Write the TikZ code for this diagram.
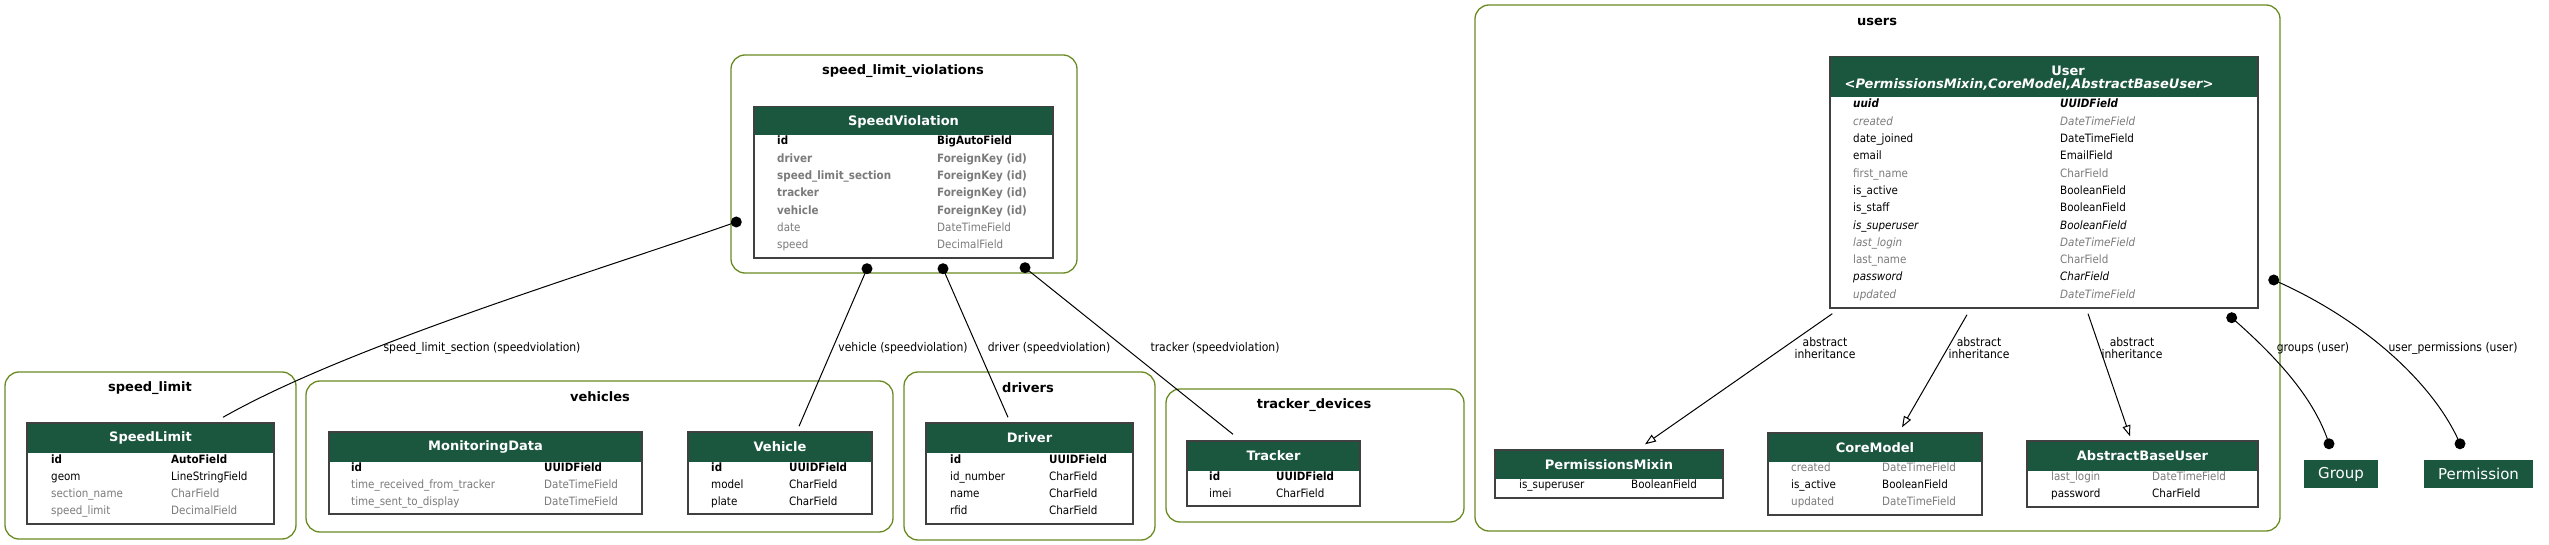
\documentclass[tikz,border=0pt]{standalone}
\usepackage{fontspec}
\setmainfont{DejaVu Sans}
\newfontfamily\condfont{DejaVu Sans Condensed}
\usetikzlibrary{arrows.meta,positioning}

\definecolor{hdrgreen}{HTML}{1B563F}
\definecolor{clustergreen}{HTML}{698B22}
\definecolor{fieldgray}{HTML}{7B7B7B}

\newcommand{\rowfont}{\condfont\fontsize{11.5}{13}\selectfont}

\tikzset{
	cluster/.style={draw=clustergreen, line width=1.3pt, rounded corners=14pt, inner sep=0pt},
	clustertitle/.style={font=\bfseries\fontsize{13}{15}\selectfont, inner sep=0pt},
	modelbox/.style={draw=black!75, line width=1.4pt, fill=white, inner sep=0pt},
	modelhead/.style={fill=hdrgreen, text=white, font=\bfseries\fontsize{13}{15}\selectfont, inner sep=0pt, anchor=north},
	fieldtxt/.style={font=\rowfont, inner sep=0pt, anchor=west, text height=8.5pt, text depth=2.5pt},
	plain/.style={fieldtxt},
	opt/.style={fieldtxt, text=fieldgray},
	pk/.style={fieldtxt, font=\rowfont\bfseries},
	fk/.style={fieldtxt, font=\rowfont\bfseries, text=fieldgray},
	ipk/.style={fieldtxt, font=\rowfont\bfseries\itshape},
	iplain/.style={fieldtxt, font=\rowfont\itshape},
	iopt/.style={fieldtxt, font=\rowfont\itshape, text=fieldgray},
	conn/.style={line width=1pt},
	fkdot/.style={fill=black},
	inherit/.style={line width=1pt, -{Triangle[open, length=11pt, width=8pt]}},
	edgelabel/.style={font=\condfont\fontsize{12}{11.5}\selectfont, inner sep=0pt, align=center}
}

\begin{document}
\begin{tikzpicture}[x=1pt, y=-1pt]
	% Define row spacing
	\def \rowstep {17.3}
	\useasboundingbox (0,0) rectangle (2549,545);

	% Draw clusters
	\node[cluster, minimum width=291, minimum height=167] (cl-speedlimit) at (150.5,455.5) {};
	\node[cluster, minimum width=587, minimum height=151] (cl-vehicles) at (599.5,456.5) {};
	\node[cluster, minimum width=251, minimum height=168] (cl-drivers) at (1029.5,456) {};
	\node[cluster, minimum width=298, minimum height=133] (cl-trackers) at (1315,455.5) {};
	\node[cluster, minimum width=346, minimum height=218] (cl-violations) at (904,164) {};
	\node[cluster, minimum width=805, minimum height=526] (cl-users) at (1877.5,268) {};
	\node[clustertitle] (cl-speedlimit-t) at (150,388) {speed\_limit};
	\node[clustertitle] (cl-vehicles-t) at (600,397) {vehicles};
	\node[clustertitle] (cl-drivers-t) at (1028,388) {drivers};
	\node[clustertitle] (cl-trackers-t) at (1314,405) {tracker\_devices};
	\node[clustertitle] (cl-violations-t) at (903,71) {speed\_limit\_violations};
	\node[clustertitle] (cl-users-t) at (1877,22) {users};

	% Draw models
	\node[modelbox, minimum width=247, minimum height=101] (speedlimit) at (150.5,473.5) {};
	\node[modelbox, minimum width=313, minimum height=82] (monitoringdata) at (485.5,473) {};
	\node[modelbox, minimum width=184, minimum height=82] (vehicle) at (780,473) {};
	\node[modelbox, minimum width=207, minimum height=101] (driver) at (1029.5,473.5) {};
	\node[modelbox, minimum width=173, minimum height=65] (tracker) at (1273.5,473.5) {};
	\node[modelbox, minimum width=299, minimum height=151] (speedviolation) at (903.5,182.5) {};
	\node[modelbox, minimum width=428, minimum height=251] (user) at (2044,182.5) {};
	\node[modelbox, minimum width=228, minimum height=48] (permissionsmixin) at (1609,474) {};
	\node[modelbox, minimum width=214, minimum height=82] (coremodel) at (1875,474) {};
	\node[modelbox, minimum width=231, minimum height=66] (abstractbaseuser) at (2142.5,474) {};

	% Draw headers
	\node[modelhead, minimum width=245, minimum height=29] (speedlimit-h) at ([yshift=-1pt]speedlimit.north) {SpeedLimit};
	\node[modelhead, minimum width=311, minimum height=29] (monitoringdata-h) at ([yshift=-1pt]monitoringdata.north) {MonitoringData};
	\node[modelhead, minimum width=182, minimum height=29] (vehicle-h) at ([yshift=-1pt]vehicle.north) {Vehicle};
	\node[modelhead, minimum width=205, minimum height=29] (driver-h) at ([yshift=-1pt]driver.north) {Driver};
	\node[modelhead, minimum width=171, minimum height=29] (tracker-h) at ([yshift=-1pt]tracker.north) {Tracker};
	\node[modelhead, minimum width=297, minimum height=28] (speedviolation-h) at ([yshift=-1pt]speedviolation.north) {SpeedViolation};
	\node[modelhead, minimum width=426, minimum height=40] (user-h) at ([yshift=-1pt]user.north) {};
	\node[modelhead, anchor=center] (user-h1) at (2068,71) {User};
	\node[modelhead, anchor=center, font=\bfseries\itshape\fontsize{13}{15}\selectfont] (user-h2) at (2029,84) {<PermissionsMixin,CoreModel,AbstractBaseUser>};
	\node[modelhead, minimum width=226, minimum height=28] (permissionsmixin-h) at ([yshift=-1pt]permissionsmixin.north) {PermissionsMixin};
	\node[modelhead, minimum width=212, minimum height=28] (coremodel-h) at ([yshift=-1pt]coremodel.north) {CoreModel};
	\node[modelhead, minimum width=229, minimum height=29] (abstractbaseuser-h) at ([yshift=-1pt]abstractbaseuser.north) {AbstractBaseUser};
	\node[modelhead, anchor=center, minimum width=74, minimum height=28, font=\fontsize{15}{17}\selectfont] (group) at (2341,474) {Group};
	\node[modelhead, anchor=center, minimum width=109, minimum height=28, font=\fontsize{15}{17}\selectfont] (permission) at (2478.5,474) {Permission};

	% Draw fields
	\foreach \fname/\ftype/\fstyle [count=\i from 0] in {id/AutoField/pk, geom/LineStringField/plain, section\_name/CharField/opt, speed\_limit/DecimalField/opt}{
		\node[\fstyle] (speedlimit-n\i) at (51, 460+\rowstep*\i) {\fname};
		\node[\fstyle] (speedlimit-t\i) at (171, 460+\rowstep*\i) {\ftype};
	}
	\foreach \fname/\ftype/\fstyle [count=\i from 0] in {id/UUIDField/pk, time\_received\_from\_tracker/DateTimeField/opt, time\_sent\_to\_display/DateTimeField/opt}{
		\node[\fstyle] (monitoringdata-n\i) at (351, 468+\rowstep*\i) {\fname};
		\node[\fstyle] (monitoringdata-t\i) at (544, 468+\rowstep*\i) {\ftype};
	}
	\foreach \fname/\ftype/\fstyle [count=\i from 0] in {id/UUIDField/pk, model/CharField/plain, plate/CharField/plain}{
		\node[\fstyle] (vehicle-n\i) at (711, 468+\rowstep*\i) {\fname};
		\node[\fstyle] (vehicle-t\i) at (789, 468+\rowstep*\i) {\ftype};
	}
	\foreach \fname/\ftype/\fstyle [count=\i from 0] in {id/UUIDField/pk, id\_number/CharField/plain, name/CharField/plain, rfid/CharField/plain}{
		\node[\fstyle] (driver-n\i) at (950, 460+\rowstep*\i) {\fname};
		\node[\fstyle] (driver-t\i) at (1049, 460+\rowstep*\i) {\ftype};
	}
	\foreach \fname/\ftype/\fstyle [count=\i from 0] in {id/UUIDField/pk, imei/CharField/plain}{
		\node[\fstyle] (tracker-n\i) at (1209, 477+\rowstep*\i) {\fname};
		\node[\fstyle] (tracker-t\i) at (1276, 477+\rowstep*\i) {\ftype};
	}
	\foreach \fname/\ftype/\fstyle [count=\i from 0] in {id/BigAutoField/pk, driver/ForeignKey (id)/fk, speed\_limit\_section/ForeignKey (id)/fk, tracker/ForeignKey (id)/fk, vehicle/ForeignKey (id)/fk, date/DateTimeField/opt, speed/DecimalField/opt}{
		\node[\fstyle] (speedviolation-n\i) at (777, 142+\rowstep*\i) {\fname};
		\node[\fstyle] (speedviolation-t\i) at (937, 142+\rowstep*\i) {\ftype};
	}
	\foreach \fname/\ftype/\fstyle [count=\i from 0] in {uuid/UUIDField/ipk, created/DateTimeField/iopt, date\_joined/DateTimeField/plain, email/EmailField/plain, first\_name/CharField/opt, is\_active/BooleanField/plain, is\_staff/BooleanField/plain, is\_superuser/BooleanField/iplain, last\_login/DateTimeField/iopt, last\_name/CharField/opt, password/CharField/iplain, updated/DateTimeField/iopt}{
		\node[\fstyle] (user-n\i) at (1853, 105+\rowstep*\i) {\fname};
		\node[\fstyle] (user-t\i) at (2060, 105+\rowstep*\i) {\ftype};
	}
	\node[plain] (permissionsmixin-n0) at (1519,485) {is\_superuser};
	\node[plain] (permissionsmixin-t0) at (1631,485) {BooleanField};
	\foreach \fname/\ftype/\fstyle [count=\i from 0] in {created/DateTimeField/opt, is\_active/BooleanField/plain, updated/DateTimeField/opt}{
		\node[\fstyle] (coremodel-n\i) at (1791, 468+\rowstep*\i) {\fname};
		\node[\fstyle] (coremodel-t\i) at (1882, 468+\rowstep*\i) {\ftype};
	}
	\foreach \fname/\ftype/\fstyle [count=\i from 0] in {last\_login/DateTimeField/opt, password/CharField/plain}{
		\node[\fstyle] (abstractbaseuser-n\i) at (2051, 477+\rowstep*\i) {\fname};
		\node[\fstyle] (abstractbaseuser-t\i) at (2152, 477+\rowstep*\i) {\ftype};
	}

	% Draw foreign keys
	\coordinate (fk-section) at ([shift={(-17,39.5)}]speedviolation.west);
	\coordinate (fk-vehicle) at ([shift={(-36.5,10)}]speedviolation.south);
	\coordinate (fk-driver) at ([shift={(39.5,10)}]speedviolation.south);
	\coordinate (fk-tracker) at ([shift={(121.5,9)}]speedviolation.south);
	\coordinate (fk-groups) at ([shift={(-27,9)}]user.south east);
	\coordinate (fk-perms) at ([shift={(15,97.5)}]user.east);
	\coordinate (fk-group) at ([shift={(-12,-16)}]group.north);
	\coordinate (fk-perm) at ([shift={(-18.5,-16)}]permission.north);
	\draw[conn] (fk-section) .. controls (600,270) and (350,345) .. ([shift={(72.5,-5)}]speedlimit.north);
	\draw[conn] (fk-vehicle) -- ([shift={(19,-5)}]vehicle.north);
	\draw[conn] (fk-driver) -- ([shift={(-21.5,-5)}]driver.north);
	\draw[conn] (fk-tracker) -- ([shift={(-40.5,-6)}]tracker.north);
	\draw[conn] (fk-groups) .. controls (2280,360) and (2315,400) .. (fk-group);
	\draw[conn] (fk-perms) .. controls (2365,320) and (2435,385) .. (fk-perm);
	\foreach \d in {fk-section, fk-vehicle, fk-driver, fk-tracker, fk-groups, fk-perms, fk-group, fk-perm}
		\fill[fkdot] (\d) circle[radius=5.5pt];
	\node[edgelabel] (lbl-section) at (482,348) {speed\_limit\_section (speedviolation)};
	\node[edgelabel] (lbl-vehicle) at (903,348) {vehicle (speedviolation)};
	\node[edgelabel] (lbl-driver) at (1049,348) {driver (speedviolation)};
	\node[edgelabel] (lbl-tracker) at (1215,348) {tracker (speedviolation)};
	\node[edgelabel] (lbl-groups) at (2313,348) {groups (user)};
	\node[edgelabel] (lbl-perms) at (2453,348) {user\_permissions (user)};

	% Draw abstract inheritance
	\draw[inherit] ([shift={(3,5)}]user.south west) -- ([shift={(36,-5)}]permissionsmixin.north);
	\draw[inherit] ([shift={(-77,6)}]user.south) -- ([shift={(27,-5)}]coremodel.north);
	\draw[inherit] ([shift={(44,5)}]user.south) -- ([shift={(-12.5,-4)}]abstractbaseuser.north);
	\node[edgelabel] (lbl-inh1) at (1825,348) {abstract\\inheritance};
	\node[edgelabel] (lbl-inh2) at (1979,348) {abstract\\inheritance};
	\node[edgelabel] (lbl-inh3) at (2132,348) {abstract\\inheritance};
\end{tikzpicture}
\end{document}
